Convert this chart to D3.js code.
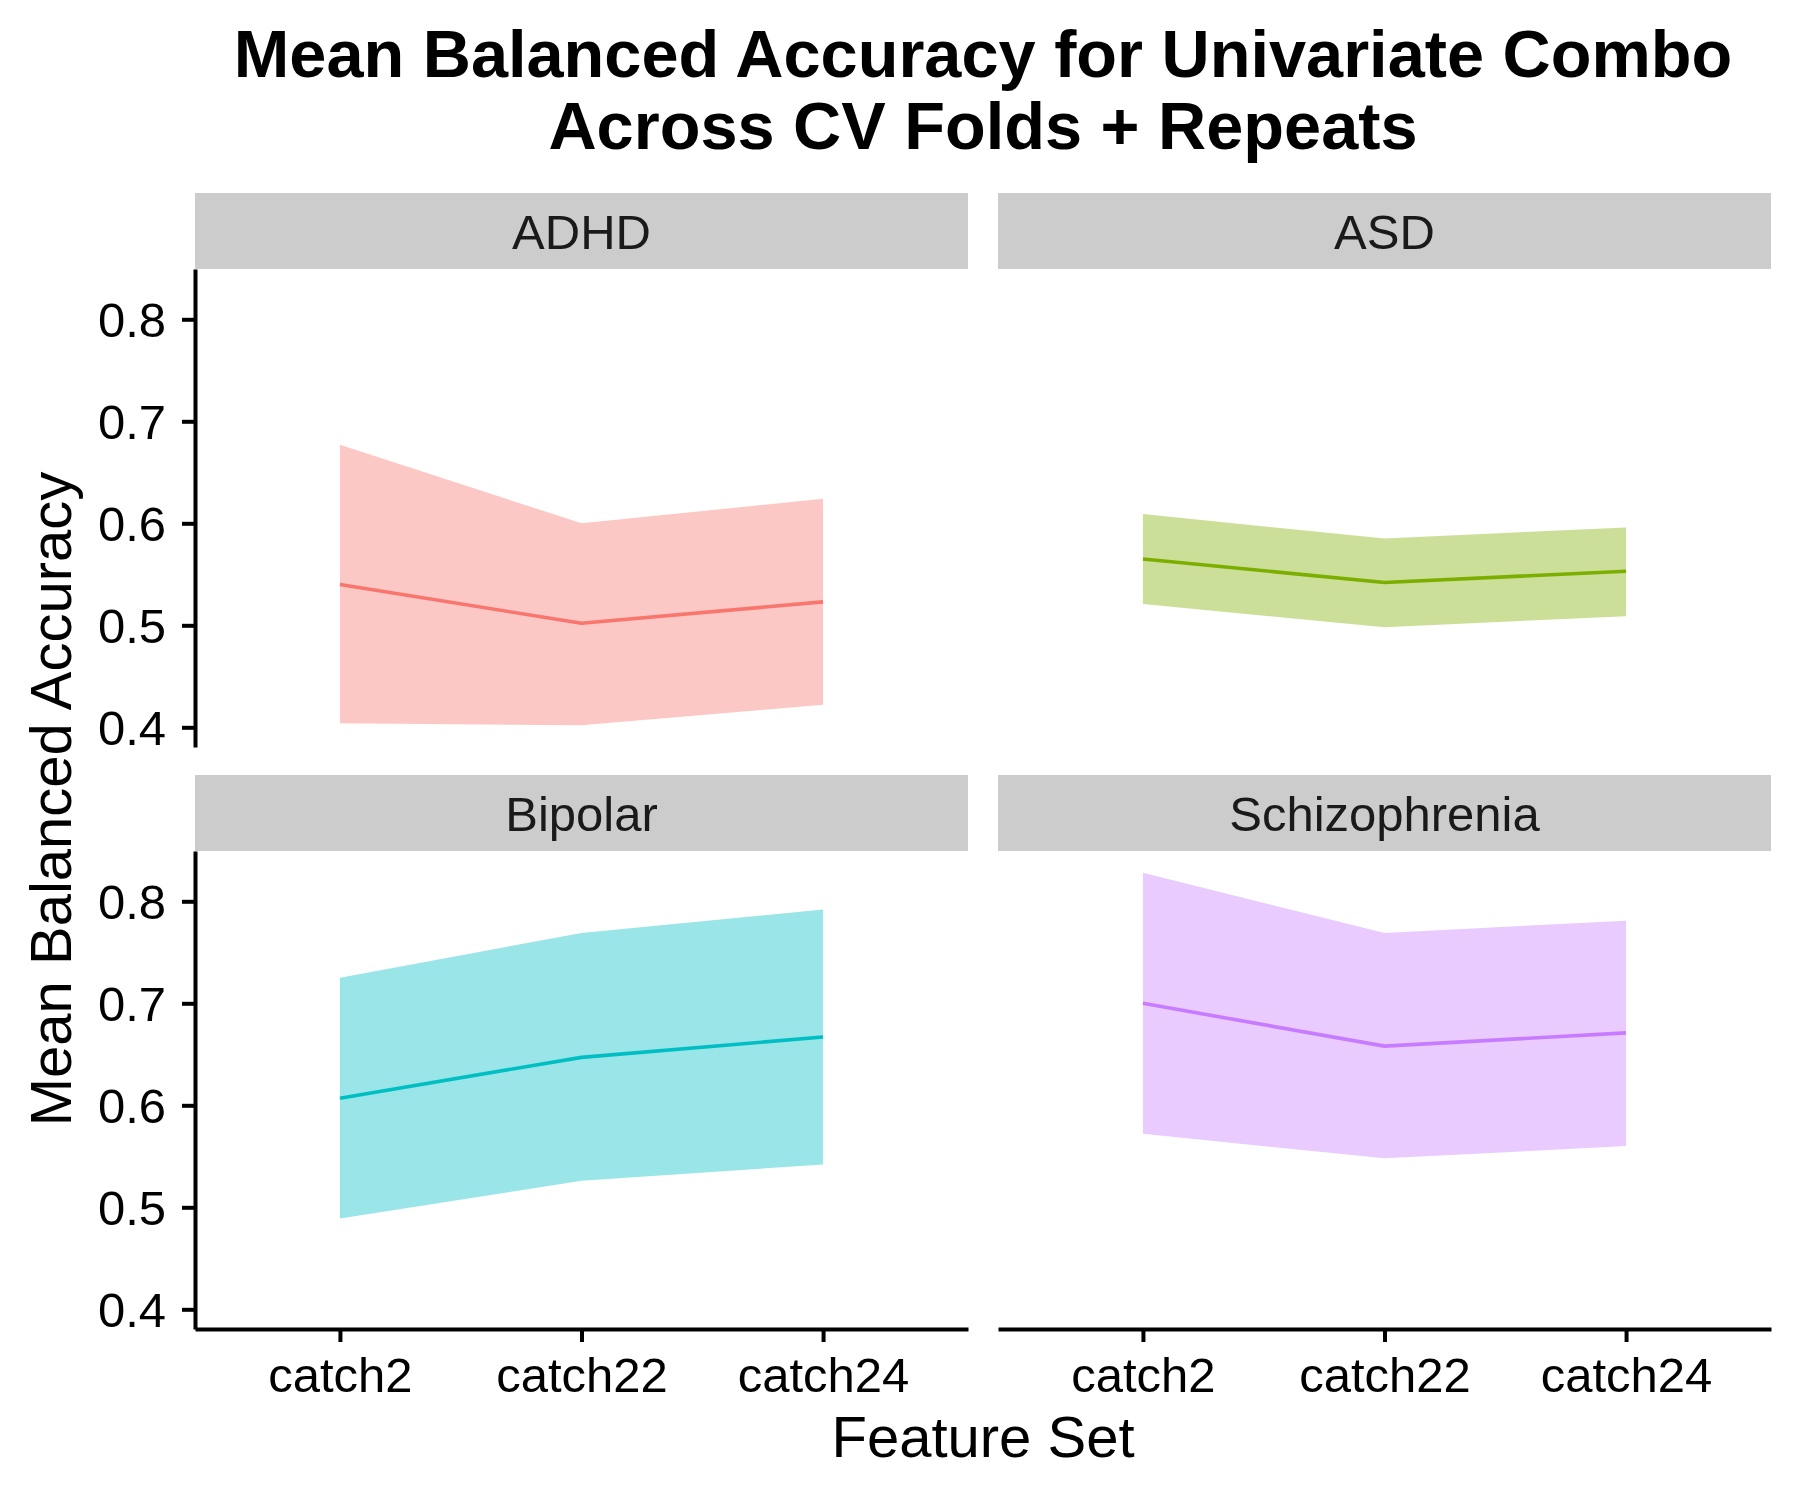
<!DOCTYPE html>
<html>
<head>
<meta charset="utf-8">
<script src="https://cdn.jsdelivr.net/npm/d3@7"></script>
<style>
  html, body { margin: 0; padding: 0; background: #ffffff; }
  svg { display: block; }
  text { font-family: "Liberation Sans", Arial, Helvetica, sans-serif; }
</style>
</head>
<body>
<svg id="chart" width="1800" height="1500"></svg>
<script>
// ---------------- DATA ----------------
const categories = ["catch2", "catch22", "catch24"];
const groups = ["ADHD", "ASD", "Bipolar", "Schizophrenia"];
const groupColors = ["#F8766D", "#7CAE00", "#00BFC4", "#C77CFF"];

const meanADHD  = [0.540, 0.502, 0.523];
const lowerADHD = [0.404, 0.402, 0.422];
const upperADHD = [0.677, 0.600, 0.624];

const meanASD  = [0.565, 0.542, 0.553];
const lowerASD = [0.521, 0.498, 0.509];
const upperASD = [0.609, 0.585, 0.596];

const meanBipolar  = [0.607, 0.647, 0.667];
const lowerBipolar = [0.489, 0.526, 0.542];
const upperBipolar = [0.725, 0.769, 0.792];

const meanSchizophrenia  = [0.700, 0.658, 0.671];
const lowerSchizophrenia = [0.572, 0.548, 0.560];
const upperSchizophrenia = [0.828, 0.769, 0.781];

const yTickValues = [0.4, 0.5, 0.6, 0.7, 0.8];

const titleLines = ["Mean Balanced Accuracy for Univariate Combo", "Across CV Folds + Repeats"];
const xAxisTitle = "Feature Set";
const yAxisTitle = "Mean Balanced Accuracy";

// ---------------- BUILD ----------------
const series = [
  { name: groups[0], color: groupColors[0], mean: meanADHD, lower: lowerADHD, upper: upperADHD },
  { name: groups[1], color: groupColors[1], mean: meanASD, lower: lowerASD, upper: upperASD },
  { name: groups[2], color: groupColors[2], mean: meanBipolar, lower: lowerBipolar, upper: upperBipolar },
  { name: groups[3], color: groupColors[3], mean: meanSchizophrenia, lower: lowerSchizophrenia, upper: upperSchizophrenia }
];

const svg = d3.select("#chart");
const FONT = "'Liberation Sans', Arial, Helvetica, sans-serif";

// layout
const colX = [195, 998];
const panelW = 773;
const rowStripTop = [193, 775];
const stripH = 76;
const panelH = 478;
const tickFont = 49;
const lineW = 4;

// shared scales (fixed facets)
const x = d3.scalePoint().domain(categories).range([0, panelW]).padding(0.6);
const allVals = series.flatMap(s => s.lower.concat(s.upper, s.mean));
const yMin = d3.min(allVals), yMax = d3.max(allVals);
const pad = (yMax - yMin) * 0.05;
const y = d3.scaleLinear().domain([yMin - pad, yMax + pad]).range([panelH, 0]);

const area = d3.area()
  .x((d, i) => x(categories[i]))
  .y0(d => y(d[0]))
  .y1(d => y(d[1]));
const line = d3.line()
  .x((d, i) => x(categories[i]))
  .y(d => y(d));

series.forEach((s, idx) => {
  const col = idx % 2, row = Math.floor(idx / 2);
  const px = colX[col];
  const stripTop = rowStripTop[row];
  const py = stripTop + stripH;

  // strip
  svg.append("rect")
    .attr("x", px).attr("y", stripTop)
    .attr("width", panelW).attr("height", stripH)
    .attr("fill", "#CCCCCC");
  svg.append("text")
    .attr("x", px + panelW / 2).attr("y", stripTop + stripH / 2)
    .attr("dy", "0.36em")
    .attr("text-anchor", "middle")
    .attr("font-size", tickFont)
    .attr("fill", "#1A1A1A")
    .text(s.name);

  const g = svg.append("g").attr("transform", `translate(${px},${py})`);

  // ribbon
  const bandData = s.lower.map((l, i) => [l, s.upper[i]]);
  g.append("path")
    .datum(bandData)
    .attr("d", area)
    .attr("fill", s.color)
    .attr("fill-opacity", 0.4);

  // mean line
  g.append("path")
    .datum(s.mean)
    .attr("d", line)
    .attr("fill", "none")
    .attr("stroke", s.color)
    .attr("stroke-width", 3.6)
    .attr("stroke-linejoin", "round");

  // y axis on left column
  if (col === 0) {
    const ya = g.append("g")
      .call(d3.axisLeft(y).tickValues(yTickValues).tickFormat(d3.format(".1f"))
        .tickSizeInner(13).tickSizeOuter(0).tickPadding(16));
    ya.select(".domain").attr("stroke", "#000").attr("stroke-width", lineW);
    ya.selectAll(".tick line").attr("stroke", "#000").attr("stroke-width", lineW);
    ya.selectAll(".tick text")
      .attr("font-family", FONT).attr("font-size", tickFont).attr("fill", "#000")
      .attr("dy", "0.36em");
  }
  // x axis on bottom row
  if (row === 1) {
    const xa = g.append("g")
      .attr("transform", `translate(0,${panelH})`)
      .call(d3.axisBottom(x).tickSizeInner(13).tickSizeOuter(0).tickPadding(15));
    xa.select(".domain").attr("stroke", "#000").attr("stroke-width", lineW);
    xa.selectAll(".tick line").attr("stroke", "#000").attr("stroke-width", lineW);
    xa.selectAll(".tick text")
      .attr("font-family", FONT).attr("font-size", tickFont).attr("fill", "#000");
  }
});

// titles
const centerX = (colX[0] + colX[1] + panelW) / 2;
svg.append("text")
  .attr("x", centerX).attr("y", 77)
  .attr("text-anchor", "middle")
  .attr("font-size", 66.7).attr("font-weight", "bold").attr("fill", "#000")
  .text(titleLines[0]);
svg.append("text")
  .attr("x", centerX).attr("y", 149)
  .attr("text-anchor", "middle")
  .attr("font-size", 66.7).attr("font-weight", "bold").attr("fill", "#000")
  .text(titleLines[1]);

svg.append("text")
  .attr("x", centerX).attr("y", 1457)
  .attr("text-anchor", "middle")
  .attr("font-size", 58).attr("fill", "#000")
  .text(xAxisTitle);

const panelMidY = (rowStripTop[0] + stripH + rowStripTop[1] + stripH + panelH) / 2;
svg.append("text")
  .attr("transform", `translate(71,${panelMidY}) rotate(-90)`)
  .attr("text-anchor", "middle")
  .attr("font-size", 58).attr("fill", "#000")
  .text(yAxisTitle);
</script>
</body>
</html>
